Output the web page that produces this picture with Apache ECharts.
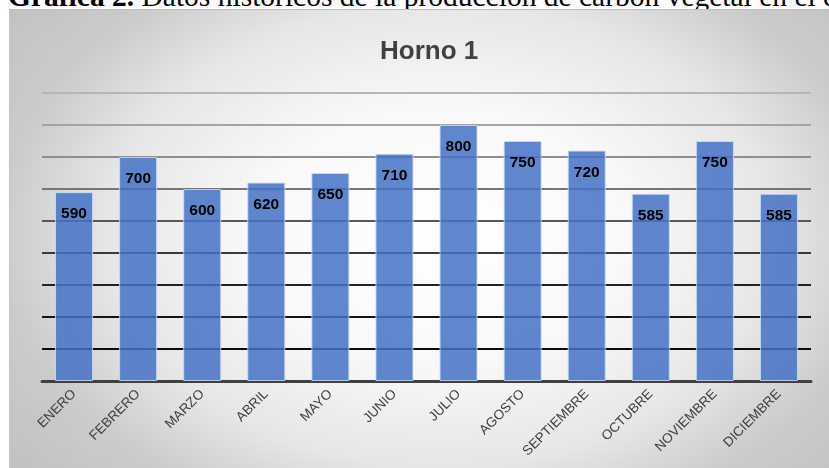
<!DOCTYPE html>
<html>
<head>
<meta charset="utf-8">
<script src="https://cdn.jsdelivr.net/npm/echarts@6/dist/echarts.min.js"></script>
<style>
  html, body { margin: 0; padding: 0; background: #ffffff; overflow: hidden; }
  #wrap { position: relative; width: 829px; height: 468px; overflow: hidden; }
  #caption {
    position: absolute; left: 8px; top: -18.5px; white-space: nowrap;
    font-family: "Liberation Serif", "Times New Roman", serif;
    font-size: 29.5px; line-height: 29.5px; color: #000;
  }
  #panel {
    position: absolute; left: 9px; top: 9px; width: 830px; height: 470px;
    border-top: 1px solid #bdbdbd; border-left: 1px solid #c4c4c4;
    background: radial-gradient(ellipse 480px 330px at 431px 225px,
      #ffffff 0%, #f8f8f8 40%, #e6e6e6 70%, #cbcbcb 92%, #c2c2c2 112%);
  }
  #chart { position: absolute; left: 0; top: 0; width: 829px; height: 468px; }
</style>
</head>
<body>
<div id="wrap">
  <div id="caption"><b>Gráfica 2.</b> Datos históricos de la producción de carbón vegetal en el estado</div>
  <div id="panel"></div>
  <div id="chart"></div>
</div>
<script>
// Monthly charcoal output, oven 1
const months = ['ENERO', 'FEBRERO', 'MARZO', 'ABRIL', 'MAYO', 'JUNIO', 'JULIO',
                'AGOSTO', 'SEPTIEMBRE', 'OCTUBRE', 'NOVIEMBRE', 'DICIEMBRE'];
const production = [590, 700, 600, 620, 650, 710, 800, 750, 720, 585, 750, 585];
const chartTitle = 'Horno 1';

// gridlines fade from black near the base to light gray at the top
const gridColors = ['rgba(0,0,0,0)', '#0c0c0c', '#141414', '#222222', '#3a3a3a',
                    '#585858', '#767676', '#8e8e8e', '#a4a4a4', '#b6b6b6'];

const chart = echarts.init(document.getElementById('chart'), null, { renderer: 'canvas' });

chart.setOption({
  backgroundColor: 'transparent',
  animation: false,
  title: {
    text: chartTitle,
    left: 375,
    top: 34,
    textStyle: {
      fontFamily: 'Liberation Sans, Arial, sans-serif',
      fontSize: 26,
      fontWeight: 'bold',
      color: '#404040',
      lineHeight: 26
    }
  },
  grid: { left: 42, right: 18, top: 93, bottom: 87, containLabel: false },
  xAxis: {
    type: 'category',
    data: months,
    axisTick: { show: false },
    axisLine: { lineStyle: { color: '#404040', width: 3 } },
    axisLabel: {
      interval: 0,
      rotate: 45,
      margin: 11,
      fontFamily: 'Liberation Sans, Arial, sans-serif',
      fontSize: 13.5,
      color: '#404040'
    }
  },
  yAxis: {
    type: 'value',
    min: 0,
    max: 900,
    interval: 100,
    axisLabel: { show: false },
    axisLine: { show: false },
    axisTick: { show: false },
    splitLine: { lineStyle: { color: gridColors, width: 1.8 } }
  },
  series: [{
    type: 'bar',
    data: production,
    barWidth: 38,
    itemStyle: {
      color: 'rgba(68,114,196,0.85)',
      borderColor: 'rgba(205,218,242,0.85)',
      borderWidth: 1
    },
    label: {
      show: true,
      position: 'insideTop',
      distance: 14,
      fontFamily: 'Liberation Sans, Arial, sans-serif',
      fontSize: 15.5,
      fontWeight: 'bold',
      color: '#000000'
    }
  }]
});
</script>
</body>
</html>
